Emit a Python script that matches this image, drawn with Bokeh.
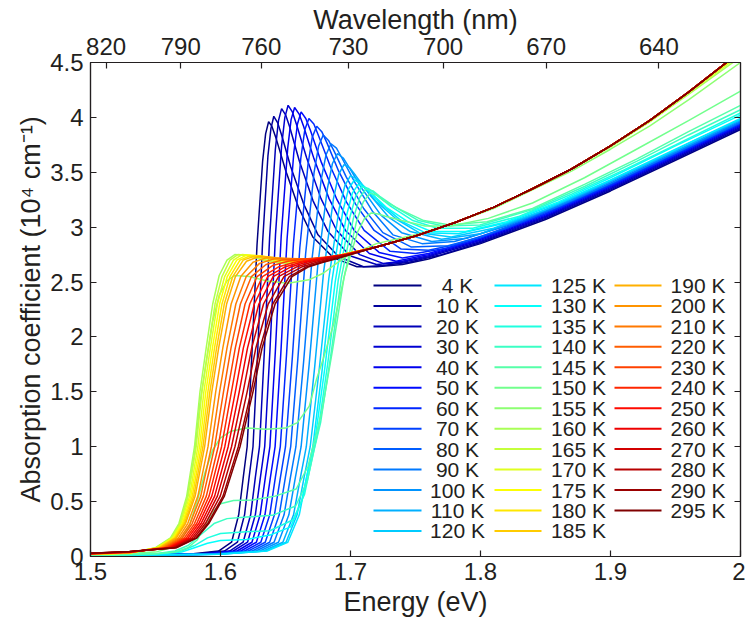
from bokeh.plotting import figure
from bokeh.models import LinearAxis, FixedTicker, CustomJSTickFormatter, Range1d
from bokeh.embed import file_html
from bokeh.resources import INLINE
from bokeh.core.properties import value

# ---------------- data ----------------
TEMPS = [4, 10, 20, 30, 40, 50, 60, 70, 80, 90, 100, 110, 120,
         125, 130, 135, 140, 145, 150, 155, 160, 165, 170, 175, 180, 185,
         190, 200, 210, 220, 230, 240, 250, 260, 270, 280, 290, 295]

X_TICKS = [1.5, 1.6, 1.7, 1.8, 1.9, 2.0]
Y_TICKS = [0, 0.5, 1, 1.5, 2, 2.5, 3, 3.5, 4, 4.5]
WL_TICKS = [820, 790, 760, 730, 700, 670, 640]

e_004 = [1.50, 1.5755, 1.5985, 1.6085, 1.614, 1.6175, 1.6205, 1.6241, 1.6281, 1.6324, 1.6347, 1.637, 1.6395, 1.643, 1.650, 1.660, 1.671, 1.687, 1.705, 1.72, 1.74, 1.76, 1.80, 1.85, 1.90, 1.95, 2.00]
a_004 = [0.01, 0.02, 0.05, 0.13, 0.38, 0.72, 1.00, 1.83, 2.84, 3.60, 3.85, 3.96, 3.92, 3.80, 3.52, 3.18, 2.91, 2.72, 2.64, 2.64, 2.66, 2.71, 2.85, 3.07, 3.33, 3.61, 3.89]
e_010 = [1.50, 1.580, 1.603, 1.613, 1.6185, 1.622, 1.625, 1.6285, 1.6324, 1.6365, 1.6388, 1.641, 1.644, 1.647, 1.654, 1.664, 1.675, 1.691, 1.71, 1.725, 1.745, 1.77, 1.80, 1.85, 1.90, 1.95, 2.00]
a_010 = [0.01, 0.02, 0.05, 0.13, 0.38, 0.72, 1.00, 1.84, 2.87, 3.65, 3.90, 4.01, 3.95, 3.84, 3.55, 3.21, 2.93, 2.73, 2.64, 2.65, 2.68, 2.75, 2.86, 3.08, 3.34, 3.62, 3.90]
e_020 = [1.50, 1.583, 1.607, 1.6174, 1.6232, 1.6268, 1.630, 1.6337, 1.6378, 1.6422, 1.6446, 1.647, 1.6502, 1.6533, 1.6607, 1.6712, 1.6827, 1.6995, 1.72, 1.74, 1.76, 1.80, 1.85, 1.90, 1.95, 2.00]
a_020 = [0.01, 0.02, 0.05, 0.13, 0.38, 0.72, 1.00, 1.86, 2.91, 3.71, 3.97, 4.08, 4.02, 3.91, 3.60, 3.24, 2.96, 2.74, 2.66, 2.68, 2.73, 2.87, 3.09, 3.35, 3.63, 3.91]
e_030 = [1.50, 1.5845, 1.6098, 1.6208, 1.6268, 1.6307, 1.634, 1.638, 1.6423, 1.647, 1.6495, 1.652, 1.6553, 1.6586, 1.6663, 1.6773, 1.6894, 1.707, 1.725, 1.74, 1.76, 1.80, 1.85, 1.90, 1.95, 2.00]
a_030 = [0.01, 0.02, 0.05, 0.13, 0.38, 0.72, 1.00, 1.87, 2.93, 3.74, 4.00, 4.11, 4.05, 3.93, 3.63, 3.26, 2.97, 2.75, 2.67, 2.69, 2.74, 2.88, 3.10, 3.36, 3.64, 3.92]
e_040 = [1.50, 1.5862, 1.6127, 1.6242, 1.6305, 1.6345, 1.638, 1.6422, 1.6467, 1.6517, 1.6543, 1.657, 1.6605, 1.6639, 1.672, 1.6835, 1.6961, 1.7145, 1.735, 1.76, 1.80, 1.85, 1.90, 1.95, 2.00]
a_040 = [0.01, 0.02, 0.05, 0.13, 0.38, 0.72, 1.00, 1.87, 2.92, 3.72, 3.98, 4.09, 4.03, 3.92, 3.62, 3.26, 2.97, 2.76, 2.69, 2.75, 2.89, 3.11, 3.37, 3.65, 3.93]
e_050 = [1.50, 1.588, 1.6156, 1.6276, 1.6342, 1.6384, 1.642, 1.6464, 1.6512, 1.6564, 1.6592, 1.662, 1.6656, 1.6692, 1.6776, 1.6896, 1.7028, 1.722, 1.74, 1.76, 1.80, 1.85, 1.90, 1.95, 2.00]
a_050 = [0.01, 0.02, 0.05, 0.13, 0.38, 0.72, 1.00, 1.85, 2.89, 3.68, 3.94, 4.05, 3.99, 3.88, 3.59, 3.25, 2.97, 2.77, 2.72, 2.76, 2.90, 3.12, 3.38, 3.66, 3.94]
e_060 = [1.50, 1.5897, 1.6185, 1.631, 1.6379, 1.6422, 1.646, 1.6508, 1.6561, 1.6618, 1.6649, 1.668, 1.6718, 1.6755, 1.6843, 1.6968, 1.7105, 1.7305, 1.75, 1.775, 1.80, 1.85, 1.90, 1.95, 2.00]
a_060 = [0.01, 0.02, 0.05, 0.13, 0.38, 0.72, 1.00, 1.84, 2.85, 3.63, 3.89, 3.99, 3.94, 3.83, 3.56, 3.23, 2.97, 2.78, 2.76, 2.81, 2.90, 3.12, 3.38, 3.66, 3.94]
e_070 = [1.50, 1.5915, 1.6214, 1.6344, 1.6415, 1.6461, 1.650, 1.6553, 1.661, 1.6673, 1.6706, 1.674, 1.6779, 1.6818, 1.6909, 1.7039, 1.7182, 1.739, 1.76, 1.78, 1.82, 1.86, 1.90, 1.95, 2.00]
a_070 = [0.01, 0.02, 0.05, 0.13, 0.38, 0.72, 1.00, 1.82, 2.81, 3.57, 3.82, 3.92, 3.87, 3.77, 3.51, 3.21, 2.97, 2.80, 2.79, 2.84, 2.99, 3.18, 3.39, 3.67, 3.95]
e_080 = [1.50, 1.5932, 1.6243, 1.6378, 1.6452, 1.6499, 1.654, 1.6595, 1.6655, 1.672, 1.6755, 1.679, 1.6831, 1.6871, 1.6966, 1.7101, 1.7249, 1.7465, 1.775, 1.80, 1.84, 1.88, 1.92, 1.96, 2.00]
a_080 = [0.01, 0.02, 0.05, 0.13, 0.38, 0.72, 1.00, 1.80, 2.76, 3.50, 3.74, 3.84, 3.79, 3.70, 3.46, 3.17, 2.95, 2.82, 2.83, 2.91, 3.09, 3.29, 3.51, 3.73, 3.95]
e_090 = [1.50, 1.595, 1.6272, 1.6412, 1.6489, 1.6538, 1.658, 1.6639, 1.6704, 1.6774, 1.6812, 1.685, 1.6892, 1.6934, 1.7032, 1.7172, 1.7326, 1.755, 1.78, 1.82, 1.86, 1.90, 1.95, 2.00]
a_090 = [0.01, 0.02, 0.05, 0.13, 0.38, 0.72, 1.00, 1.77, 2.71, 3.43, 3.66, 3.76, 3.72, 3.63, 3.41, 3.14, 2.93, 2.85, 2.87, 3.01, 3.19, 3.40, 3.68, 3.96]
e_100 = [1.50, 1.5967, 1.6301, 1.6446, 1.6526, 1.6576, 1.662, 1.6682, 1.6749, 1.6822, 1.6861, 1.690, 1.6944, 1.6987, 1.7089, 1.7234, 1.7393, 1.7625, 1.79, 1.83, 1.87, 1.91, 1.95, 2.00]
a_100 = [0.01, 0.02, 0.05, 0.13, 0.38, 0.72, 1.00, 1.75, 2.66, 3.35, 3.58, 3.67, 3.63, 3.55, 3.35, 3.11, 2.95, 2.87, 2.90, 3.06, 3.25, 3.47, 3.69, 3.97]
e_110 = [1.50, 1.5985, 1.633, 1.648, 1.6562, 1.6615, 1.666, 1.6724, 1.6793, 1.6869, 1.6909, 1.695, 1.6995, 1.704, 1.7145, 1.7295, 1.746, 1.77, 1.80, 1.84, 1.88, 1.92, 1.96, 2.00]
a_110 = [0.01, 0.02, 0.05, 0.13, 0.38, 0.72, 1.00, 1.72, 2.59, 3.26, 3.48, 3.57, 3.54, 3.47, 3.30, 3.09, 2.96, 2.89, 2.94, 3.11, 3.31, 3.53, 3.75, 3.98]
e_120 = [1.50, 1.5992, 1.6349, 1.6504, 1.6589, 1.6643, 1.669, 1.6758, 1.6833, 1.6913, 1.6957, 1.700, 1.7047, 1.7093, 1.7202, 1.7357, 1.7527, 1.7775, 1.81, 1.85, 1.89, 1.93, 1.97, 2.00]
a_120 = [0.01, 0.02, 0.05, 0.13, 0.38, 0.72, 1.00, 1.69, 2.53, 3.17, 3.38, 3.47, 3.44, 3.38, 3.23, 3.07, 2.95, 2.91, 2.99, 3.16, 3.37, 3.59, 3.82, 3.98]
e_125 = [1.50, 1.599, 1.6358, 1.6518, 1.6606, 1.6662, 1.671, 1.678, 1.6857, 1.694, 1.6985, 1.703, 1.7078, 1.7126, 1.7238, 1.7398, 1.7574, 1.783, 1.82, 1.86, 1.90, 1.95, 2.00]
a_125 = [0.01, 0.02, 0.05, 0.13, 0.38, 0.72, 1.00, 1.68, 2.51, 3.14, 3.35, 3.43, 3.40, 3.35, 3.21, 3.05, 2.95, 2.94, 3.04, 3.22, 3.43, 3.71, 3.99]
e_130 = [1.50, 1.55, 1.57, 1.58, 1.59, 1.60, 1.62, 1.638, 1.654, 1.6626, 1.6682, 1.673, 1.6803, 1.6882, 1.6968, 1.7014, 1.706, 1.7109, 1.7159, 1.7275, 1.744, 1.7621, 1.7885, 1.82, 1.86, 1.90, 1.95, 2.00]
a_130 = [0.01, 0.02, 0.04, 0.08, 0.12, 0.145, 0.155, 0.195, 0.27, 0.51, 0.83, 1.09, 1.72, 2.50, 3.10, 3.31, 3.39, 3.36, 3.31, 3.18, 3.05, 2.96, 2.96, 3.05, 3.23, 3.45, 3.74, 4.02]
e_135 = [1.50, 1.55, 1.57, 1.58, 1.59, 1.60, 1.62, 1.638, 1.6558, 1.6646, 1.6702, 1.675, 1.6825, 1.6906, 1.6995, 1.7042, 1.709, 1.7141, 1.7192, 1.7311, 1.748, 1.7668, 1.794, 1.83, 1.87, 1.91, 1.95, 2.00]
a_135 = [0.01, 0.02, 0.05, 0.10, 0.17, 0.21, 0.225, 0.235, 0.335, 0.565, 0.88, 1.14, 1.76, 2.52, 3.09, 3.29, 3.37, 3.35, 3.30, 3.19, 3.06, 2.99, 2.99, 3.10, 3.30, 3.52, 3.75, 4.04]
e_140 = [1.50, 1.55, 1.565, 1.575, 1.585, 1.595, 1.605, 1.62, 1.64, 1.6578, 1.6666, 1.6722, 1.677, 1.6847, 1.6931, 1.7022, 1.7071, 1.712, 1.7173, 1.7225, 1.7348, 1.7523, 1.7715, 1.7995, 1.84, 1.88, 1.92, 1.96, 2.00]
a_140 = [0.01, 0.025, 0.05, 0.10, 0.20, 0.30, 0.345, 0.36, 0.375, 0.46, 0.68, 0.98, 1.22, 1.82, 2.55, 3.08, 3.27, 3.35, 3.33, 3.28, 3.18, 3.06, 3.01, 3.02, 3.16, 3.37, 3.60, 3.84, 4.07]
e_145 = [1.50, 1.55, 1.565, 1.575, 1.582, 1.588, 1.594, 1.60, 1.61, 1.625, 1.642, 1.6582, 1.6673, 1.673, 1.678, 1.6861, 1.695, 1.7046, 1.7098, 1.715, 1.7204, 1.7258, 1.7384, 1.7564, 1.7762, 1.805, 1.84, 1.88, 1.92, 1.96, 2.00]
a_145 = [0.01, 0.025, 0.04, 0.08, 0.15, 0.28, 0.41, 0.48, 0.51, 0.515, 0.55, 0.615, 0.82, 1.09, 1.32, 1.875, 2.54, 3.05, 3.23, 3.31, 3.29, 3.24, 3.16, 3.06, 3.02, 3.05, 3.17, 3.39, 3.62, 3.87, 4.11]
e_150 = [1.50, 1.55, 1.562, 1.57, 1.576, 1.582, 1.588, 1.594, 1.60, 1.608, 1.62, 1.635, 1.65, 1.6592, 1.6683, 1.674, 1.679, 1.6871, 1.696, 1.7056, 1.7108, 1.716, 1.7214, 1.7268, 1.7394, 1.7574, 1.7772, 1.806, 1.84, 1.88, 1.92, 1.96, 2.00]
a_150 = [0.015, 0.04, 0.08, 0.16, 0.28, 0.50, 0.76, 0.97, 1.08, 1.14, 1.17, 1.16, 1.17, 1.22, 1.37, 1.62, 1.80, 2.12, 2.59, 2.96, 3.08, 3.13, 3.12, 3.10, 3.06, 3.01, 3.01, 3.08, 3.22, 3.45, 3.71, 3.97, 4.24]
e_155 = [1.50, 1.53, 1.550, 1.5615, 1.568, 1.574, 1.580, 1.5842, 1.589, 1.594, 1.599, 1.605, 1.611, 1.622, 1.636, 1.652, 1.668, 1.679, 1.696, 1.72, 1.75, 1.78, 1.81, 1.84, 1.87, 1.90, 1.93, 1.96, 2.00]
a_155 = [0.02, 0.03, 0.075, 0.16, 0.28, 0.51, 0.93, 1.40, 1.77, 2.14, 2.38, 2.51, 2.56, 2.55, 2.51, 2.49, 2.52, 2.58, 2.73, 2.85, 2.93, 3.04, 3.17, 3.34, 3.51, 3.71, 3.92, 4.16, 4.50]
e_160 = [1.50, 1.53, 1.5500, 1.5615, 1.5680, 1.5740, 1.5800, 1.5842, 1.5890, 1.5940, 1.5990, 1.6050, 1.6110, 1.6220, 1.6360, 1.6520, 1.6700, 1.6900, 1.72, 1.75, 1.78, 1.81, 1.84, 1.87, 1.90, 1.93, 1.96, 2.00]
a_160 = [0.020, 0.030, 0.08, 0.17, 0.30, 0.55, 1.00, 1.50, 1.90, 2.30, 2.56, 2.70, 2.75, 2.74, 2.69, 2.67, 2.69, 2.74, 2.82, 2.92, 3.04, 3.18, 3.35, 3.53, 3.73, 3.96, 4.21, 4.55]
e_165 = [1.50, 1.53, 1.5506, 1.5623, 1.5689, 1.5751, 1.5813, 1.5857, 1.5906, 1.5958, 1.6011, 1.6073, 1.6133, 1.6240, 1.6380, 1.6530, 1.6700, 1.6900, 1.72, 1.75, 1.78, 1.81, 1.84, 1.87, 1.90, 1.93, 1.96, 2.00]
a_165 = [0.020, 0.031, 0.08, 0.17, 0.30, 0.55, 1.00, 1.50, 1.90, 2.30, 2.55, 2.70, 2.75, 2.74, 2.69, 2.675, 2.69, 2.74, 2.82, 2.92, 3.04, 3.18, 3.35, 3.53, 3.74, 3.96, 4.22, 4.57]
e_170 = [1.50, 1.53, 1.5512, 1.5630, 1.5697, 1.5762, 1.5826, 1.5872, 1.5922, 1.5976, 1.6032, 1.6100, 1.6165, 1.6270, 1.6400, 1.6550, 1.6700, 1.6900, 1.72, 1.75, 1.78, 1.81, 1.84, 1.87, 1.90, 1.93, 1.96, 2.00]
a_170 = [0.021, 0.032, 0.08, 0.17, 0.30, 0.55, 1.00, 1.50, 1.90, 2.30, 2.55, 2.70, 2.75, 2.74, 2.70, 2.68, 2.695, 2.74, 2.82, 2.92, 3.04, 3.18, 3.35, 3.53, 3.74, 3.97, 4.23, 4.58]
e_175 = [1.50, 1.53, 1.5518, 1.5638, 1.5706, 1.5772, 1.5839, 1.5887, 1.5938, 1.5993, 1.6052, 1.6125, 1.6200, 1.6300, 1.6430, 1.6570, 1.6720, 1.6900, 1.72, 1.75, 1.78, 1.81, 1.84, 1.87, 1.90, 1.93, 1.96, 2.00]
a_175 = [0.021, 0.033, 0.08, 0.17, 0.30, 0.55, 1.00, 1.50, 1.90, 2.30, 2.55, 2.70, 2.745, 2.74, 2.70, 2.685, 2.70, 2.74, 2.82, 2.92, 3.04, 3.18, 3.35, 3.53, 3.74, 3.97, 4.23, 4.59]
e_180 = [1.50, 1.53, 1.5524, 1.5646, 1.5714, 1.5783, 1.5852, 1.5903, 1.5954, 1.6011, 1.6073, 1.6150, 1.6230, 1.6330, 1.6460, 1.6600, 1.6750, 1.6900, 1.72, 1.75, 1.78, 1.81, 1.84, 1.87, 1.90, 1.93, 1.96, 2.00]
a_180 = [0.022, 0.033, 0.08, 0.17, 0.30, 0.55, 1.00, 1.50, 1.90, 2.30, 2.55, 2.70, 2.74, 2.735, 2.70, 2.69, 2.705, 2.74, 2.82, 2.92, 3.04, 3.18, 3.35, 3.53, 3.74, 3.97, 4.23, 4.60]
e_185 = [1.50, 1.53, 1.5530, 1.5653, 1.5723, 1.5794, 1.5865, 1.5918, 1.5970, 1.6029, 1.6094, 1.6175, 1.6260, 1.6360, 1.6490, 1.6620, 1.6770, 1.6900, 1.72, 1.75, 1.78, 1.81, 1.84, 1.87, 1.90, 1.93, 1.96, 2.00]
a_185 = [0.022, 0.034, 0.08, 0.17, 0.30, 0.55, 1.00, 1.50, 1.90, 2.30, 2.55, 2.70, 2.735, 2.73, 2.70, 2.695, 2.71, 2.74, 2.82, 2.92, 3.04, 3.18, 3.35, 3.53, 3.74, 3.97, 4.23, 4.60]
e_190 = [1.50, 1.53, 1.5536, 1.5661, 1.5731, 1.5805, 1.5878, 1.5933, 1.5986, 1.6047, 1.6115, 1.6200, 1.6290, 1.6400, 1.6520, 1.6650, 1.6800, 1.6920, 1.72, 1.75, 1.78, 1.81, 1.84, 1.87, 1.90, 1.93, 1.96, 2.00]
a_190 = [0.022, 0.035, 0.08, 0.17, 0.30, 0.55, 1.00, 1.50, 1.90, 2.30, 2.55, 2.69, 2.73, 2.725, 2.70, 2.70, 2.715, 2.745, 2.82, 2.92, 3.04, 3.18, 3.35, 3.53, 3.74, 3.97, 4.23, 4.60]
e_200 = [1.50, 1.53, 1.5548, 1.5676, 1.5748, 1.5826, 1.5904, 1.5963, 1.6018, 1.6082, 1.6156, 1.6250, 1.6350, 1.6470, 1.6600, 1.6750, 1.6920, 1.72, 1.75, 1.78, 1.81, 1.84, 1.87, 1.90, 1.93, 1.96, 2.00]
a_200 = [0.023, 0.036, 0.08, 0.17, 0.30, 0.55, 1.00, 1.50, 1.90, 2.30, 2.55, 2.68, 2.72, 2.72, 2.705, 2.71, 2.745, 2.82, 2.92, 3.04, 3.18, 3.35, 3.53, 3.74, 3.97, 4.23, 4.60]
e_210 = [1.50, 1.53, 1.5560, 1.5691, 1.5766, 1.5848, 1.5930, 1.5993, 1.6050, 1.6118, 1.6198, 1.6300, 1.6410, 1.6530, 1.6670, 1.6800, 1.6930, 1.72, 1.75, 1.78, 1.81, 1.84, 1.87, 1.90, 1.93, 1.96, 2.00]
a_210 = [0.024, 0.037, 0.08, 0.17, 0.30, 0.55, 1.00, 1.50, 1.90, 2.30, 2.55, 2.67, 2.71, 2.715, 2.71, 2.72, 2.745, 2.82, 2.92, 3.04, 3.18, 3.35, 3.53, 3.74, 3.97, 4.23, 4.60]
e_220 = [1.50, 1.53, 1.5571, 1.5706, 1.5782, 1.5868, 1.5955, 1.6023, 1.6081, 1.6153, 1.6238, 1.6350, 1.6470, 1.6600, 1.6730, 1.6930, 1.72, 1.75, 1.78, 1.81, 1.84, 1.87, 1.90, 1.93, 1.96, 2.00]
a_220 = [0.025, 0.038, 0.08, 0.17, 0.30, 0.55, 1.00, 1.50, 1.90, 2.30, 2.55, 2.66, 2.70, 2.71, 2.715, 2.745, 2.82, 2.92, 3.04, 3.18, 3.35, 3.53, 3.74, 3.97, 4.23, 4.60]
e_230 = [1.50, 1.53, 1.5583, 1.5722, 1.5800, 1.5891, 1.5982, 1.6054, 1.6114, 1.6189, 1.6281, 1.6400, 1.6520, 1.6650, 1.6800, 1.6940, 1.72, 1.75, 1.78, 1.81, 1.84, 1.87, 1.90, 1.93, 1.96, 2.00]
a_230 = [0.025, 0.039, 0.08, 0.17, 0.30, 0.55, 1.00, 1.50, 1.90, 2.30, 2.55, 2.65, 2.69, 2.71, 2.725, 2.745, 2.82, 2.92, 3.04, 3.18, 3.35, 3.53, 3.74, 3.97, 4.23, 4.60]
e_240 = [1.50, 1.53, 1.5595, 1.5737, 1.5817, 1.5912, 1.6008, 1.6084, 1.6145, 1.6225, 1.6323, 1.6450, 1.6570, 1.6700, 1.6830, 1.6950, 1.72, 1.75, 1.78, 1.81, 1.84, 1.87, 1.90, 1.93, 1.96, 2.00]
a_240 = [0.026, 0.040, 0.08, 0.17, 0.30, 0.55, 1.00, 1.50, 1.90, 2.30, 2.55, 2.64, 2.68, 2.705, 2.725, 2.745, 2.82, 2.92, 3.04, 3.18, 3.35, 3.53, 3.74, 3.97, 4.23, 4.60]
e_250 = [1.50, 1.53, 1.5606, 1.5751, 1.5833, 1.5933, 1.6033, 1.6114, 1.6176, 1.6260, 1.6363, 1.6500, 1.6620, 1.6750, 1.6860, 1.6960, 1.72, 1.75, 1.78, 1.81, 1.84, 1.87, 1.90, 1.93, 1.96, 2.00]
a_250 = [0.027, 0.041, 0.08, 0.17, 0.30, 0.55, 1.00, 1.50, 1.90, 2.30, 2.55, 2.64, 2.68, 2.71, 2.73, 2.75, 2.82, 2.92, 3.04, 3.18, 3.35, 3.53, 3.74, 3.97, 4.23, 4.60]
e_260 = [1.50, 1.53, 1.5618, 1.5767, 1.5850, 1.5955, 1.6059, 1.6144, 1.6208, 1.6295, 1.6405, 1.6545, 1.6660, 1.6780, 1.6880, 1.6970, 1.72, 1.75, 1.78, 1.81, 1.84, 1.87, 1.90, 1.93, 1.96, 2.00]
a_260 = [0.028, 0.042, 0.08, 0.17, 0.30, 0.55, 1.00, 1.50, 1.90, 2.30, 2.55, 2.64, 2.68, 2.715, 2.735, 2.75, 2.82, 2.92, 3.04, 3.18, 3.35, 3.53, 3.74, 3.97, 4.23, 4.60]
e_270 = [1.50, 1.53, 1.5630, 1.5782, 1.5867, 1.5976, 1.6085, 1.6174, 1.6240, 1.6331, 1.6446, 1.6590, 1.6700, 1.6800, 1.6900, 1.6980, 1.72, 1.75, 1.78, 1.81, 1.84, 1.87, 1.90, 1.93, 1.96, 2.00]
a_270 = [0.028, 0.043, 0.08, 0.17, 0.30, 0.55, 1.00, 1.50, 1.90, 2.30, 2.55, 2.64, 2.68, 2.71, 2.735, 2.75, 2.82, 2.92, 3.04, 3.18, 3.35, 3.53, 3.74, 3.97, 4.23, 4.60]
e_280 = [1.50, 1.53, 1.5642, 1.5797, 1.5884, 1.5998, 1.6111, 1.6205, 1.6272, 1.6367, 1.6488, 1.6630, 1.6740, 1.6850, 1.6950, 1.72, 1.75, 1.78, 1.81, 1.84, 1.87, 1.90, 1.93, 1.96, 2.00]
a_280 = [0.029, 0.044, 0.08, 0.17, 0.30, 0.55, 1.00, 1.50, 1.90, 2.30, 2.55, 2.64, 2.68, 2.715, 2.745, 2.82, 2.92, 3.04, 3.18, 3.35, 3.53, 3.74, 3.97, 4.23, 4.60]
e_290 = [1.50, 1.53, 1.5654, 1.5812, 1.5901, 1.6019, 1.6137, 1.6235, 1.6304, 1.6402, 1.6529, 1.6665, 1.6775, 1.6880, 1.6980, 1.72, 1.75, 1.78, 1.81, 1.84, 1.87, 1.90, 1.93, 1.96, 2.00]
a_290 = [0.030, 0.045, 0.08, 0.17, 0.30, 0.55, 1.00, 1.50, 1.90, 2.30, 2.55, 2.64, 2.68, 2.715, 2.745, 2.82, 2.92, 3.04, 3.18, 3.35, 3.53, 3.74, 3.97, 4.23, 4.60]
e_295 = [1.50, 1.53, 1.5660, 1.5820, 1.5910, 1.6030, 1.6150, 1.6250, 1.6320, 1.6420, 1.6550, 1.6680, 1.6790, 1.6900, 1.7000, 1.72, 1.75, 1.78, 1.81, 1.84, 1.87, 1.90, 1.93, 1.96, 2.00]
a_295 = [0.030, 0.045, 0.08, 0.17, 0.30, 0.55, 1.00, 1.50, 1.90, 2.30, 2.55, 2.64, 2.68, 2.715, 2.75, 2.82, 2.92, 3.04, 3.18, 3.35, 3.53, 3.74, 3.97, 4.23, 4.60]

CURVES = [
    (e_004, a_004), (e_010, a_010), (e_020, a_020), (e_030, a_030), (e_040, a_040),
    (e_050, a_050), (e_060, a_060), (e_070, a_070), (e_080, a_080), (e_090, a_090),
    (e_100, a_100), (e_110, a_110), (e_120, a_120), (e_125, a_125), (e_130, a_130),
    (e_135, a_135), (e_140, a_140), (e_145, a_145), (e_150, a_150), (e_155, a_155),
    (e_160, a_160), (e_165, a_165), (e_170, a_170), (e_175, a_175), (e_180, a_180),
    (e_185, a_185), (e_190, a_190), (e_200, a_200), (e_210, a_210), (e_220, a_220),
    (e_230, a_230), (e_240, a_240), (e_250, a_250), (e_260, a_260), (e_270, a_270),
    (e_280, a_280), (e_290, a_290), (e_295, a_295),
]
for ee, aa in CURVES:
    assert len(ee) == len(aa)

# ---------------- styling ----------------
FONT = "Liberation Sans"
TXT = "#231f20"
FRAME_W, FRAME_H = 650, 494


def jet(t):
    r = min(max(1.5 - abs(4 * t - 3), 0), 1)
    g = min(max(1.5 - abs(4 * t - 2), 0), 1)
    b = min(max(1.5 - abs(4 * t - 1), 0), 1)
    return "#%02x%02x%02x" % (round(r * 255), round(g * 255), round(b * 255))


COLORS = [jet(i / (len(TEMPS) - 1)) for i in range(len(TEMPS))]

p = figure(frame_width=FRAME_W, frame_height=FRAME_H,
           x_range=Range1d(1.5, 2.0), y_range=Range1d(0, 4.5),
           output_backend="svg", toolbar_location=None,
           min_border_left=90, min_border_right=5, min_border_top=62, min_border_bottom=68)
p.background_fill_color = "white"
p.border_fill_color = "white"
p.outline_line_color = TXT
p.outline_line_width = 1.2
p.xgrid.visible = False
p.ygrid.visible = False


def style_axis(ax, label_size="24px"):
    ax.major_tick_in = 6
    ax.major_tick_out = 0
    ax.minor_tick_line_color = None
    ax.axis_line_color = TXT
    ax.axis_line_width = 1.2
    ax.major_tick_line_color = TXT
    ax.major_tick_line_width = 1.2
    ax.major_label_text_font = FONT
    ax.major_label_text_font_size = label_size
    ax.major_label_text_color = TXT
    ax.axis_label_text_font = FONT
    ax.axis_label_text_font_size = "27px"
    ax.axis_label_text_font_style = "normal"
    ax.axis_label_text_color = TXT


xa = p.xaxis[0]
xa.ticker = FixedTicker(ticks=X_TICKS, minor_ticks=[])
xa.formatter = CustomJSTickFormatter(code="return String(Math.round(tick * 10) / 10);")
xa.axis_label = "Energy (eV)"
style_axis(xa)
xa.major_label_standoff = 6
xa.axis_label_standoff = 4

ya = p.yaxis[0]
ya.ticker = FixedTicker(ticks=Y_TICKS, minor_ticks=[])
ya.formatter = CustomJSTickFormatter(code="return String(Math.round(tick * 2) / 2);")
ya.axis_label = "Absorption coefficient (10\u2074 cm\u207b\u00b9)"
style_axis(ya)
ya.major_label_standoff = 7
ya.axis_label_standoff = 1

top = LinearAxis(ticker=FixedTicker(ticks=[1239.84 / w for w in WL_TICKS], minor_ticks=[]),
                 formatter=CustomJSTickFormatter(code="return String(Math.round(1239.84 / tick));"),
                 axis_label="Wavelength (nm)")
style_axis(top)
top.major_label_standoff = 8
top.axis_label_standoff = 0
p.add_layout(top, "above")

right = LinearAxis(ticker=FixedTicker(ticks=Y_TICKS, minor_ticks=[]),
                   formatter=CustomJSTickFormatter(code="return '';"))
style_axis(right, label_size="0px")
right.major_label_standoff = 0
p.add_layout(right, "right")

# curves
for (ee, aa), c in zip(CURVES, COLORS):
    p.line(ee, aa, line_color=c, line_width=1.5)

# legend (three columns, labels centred), in frame pixel coordinates
p.extra_x_ranges = {"px": Range1d(0, FRAME_W)}
p.extra_y_ranges = {"px": Range1d(0, FRAME_H)}
COL_LINE_X0 = [283, 404, 524]
COL_LINE_X1 = [331, 451, 571]
COL_LABEL_X = [367, 488, 607.5]
ROW0_Y = 271
ROW_STEP = 20.45
COL_SPLIT = [0, 13, 26, 38]

lx0, lx1, ly, tx, labels, lc = [], [], [], [], [], []
for col in range(3):
    for row, idx in enumerate(range(COL_SPLIT[col], COL_SPLIT[col + 1])):
        y = ROW0_Y - row * ROW_STEP
        lx0.append(COL_LINE_X0[col])
        lx1.append(COL_LINE_X1[col])
        ly.append(y)
        tx.append(COL_LABEL_X[col])
        labels.append(f"{TEMPS[idx]} K")
        lc.append(COLORS[idx])

p.segment(x0=lx0, y0=ly, x1=lx1, y1=ly, line_color=lc, line_width=2,
          x_range_name="px", y_range_name="px")
p.text(x=tx, y=ly, text=labels, text_align="center", text_baseline="middle",
       text_font=value(FONT), text_font_size=value("21px"), text_color=TXT,
       x_range_name="px", y_range_name="px")

open("out.html", "w").write(file_html(p, INLINE))
